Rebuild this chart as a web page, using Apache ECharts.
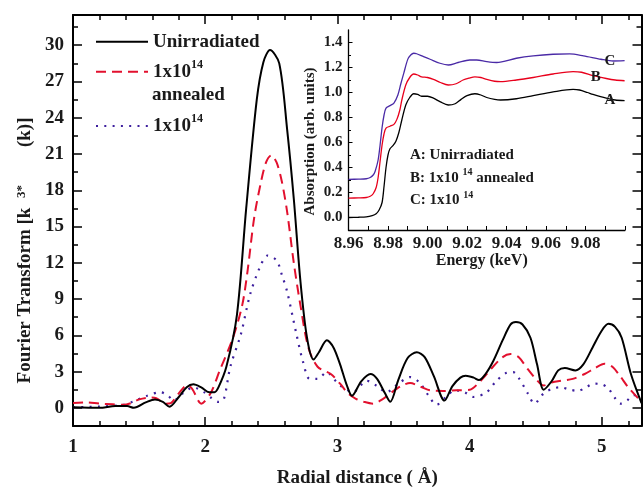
<!DOCTYPE html>
<html><head><meta charset="utf-8">
<script src="https://cdn.jsdelivr.net/npm/echarts@6/dist/echarts.min.js"></script>
<style>html,body{margin:0;padding:0;background:#fff}#c{width:644px;height:493px}</style>
</head><body><div id="c"></div><script>
// ---------- main chart data: radial distance (Å) vs Fourier transform ----------
const rUnirr = [1.00,1.20,1.32,1.41,1.46,1.55,1.62,1.68,1.73,1.80,1.86,1.91,1.97,2.03,2.07,2.10,2.16,2.24,2.31,2.39,2.44,2.49,2.56,2.62,2.67,2.72,2.77,2.82,2.86,2.92,2.97,3.02,3.07,3.11,3.18,3.25,3.30,3.36,3.40,3.46,3.53,3.60,3.66,3.73,3.81,3.87,3.93,3.97,4.03,4.07,4.12,4.18,4.25,4.31,4.35,4.40,4.46,4.51,4.56,4.62,4.67,4.72,4.80,4.86,4.93,5.00,5.05,5.10,5.15,5.22,5.30];
const ftUnirr = [0.05,0.0,0.15,0.15,0.0,0.45,0.7,0.5,0.1,0.9,1.7,1.95,1.7,1.3,1.3,1.7,3.4,7.7,16.5,25.5,28.6,29.6,28.5,23.0,17.3,10.5,5.8,4.0,4.6,5.6,5.0,3.6,1.9,1.0,2.2,2.8,2.4,1.2,0.5,2.3,4.1,4.6,4.2,2.6,0.6,1.8,2.5,2.65,2.5,2.3,2.8,3.9,5.6,6.9,7.1,6.9,5.8,3.6,1.5,2.2,3.1,3.3,3.1,3.6,5.0,6.4,6.95,6.7,5.8,2.8,0.4];

const rAnneal = [1.00,1.10,1.20,1.30,1.38,1.44,1.50,1.58,1.63,1.70,1.74,1.80,1.86,1.90,1.97,2.04,2.11,2.21,2.28,2.32,2.37,2.42,2.46,2.50,2.54,2.58,2.62,2.67,2.72,2.78,2.85,2.95,3.02,3.08,3.14,3.20,3.27,3.34,3.40,3.48,3.55,3.63,3.70,3.80,3.90,4.00,4.08,4.16,4.25,4.31,4.37,4.44,4.50,4.56,4.62,4.69,4.78,4.87,4.95,5.02,5.08,5.14,5.20,5.30];
const ftAnneal = [0.4,0.45,0.35,0.3,0.25,0.4,0.7,0.85,0.8,0.35,0.4,1.2,1.85,1.6,0.35,1.2,3.1,5.8,8.5,11.3,15.7,18.6,20.3,20.9,20.3,18.7,16.2,12.0,8.5,5.0,3.4,2.8,2.0,1.2,0.75,0.5,0.35,0.7,1.2,1.8,2.05,1.75,1.45,1.4,1.45,1.5,2.2,3.2,4.2,4.45,4.2,3.2,2.4,1.85,2.1,2.25,2.4,2.8,3.3,3.65,3.4,2.6,1.7,0.5];

const rIrr = [1.00,1.20,1.38,1.45,1.56,1.66,1.72,1.76,1.83,1.91,1.99,2.05,2.10,2.14,2.19,2.27,2.34,2.42,2.47,2.54,2.58,2.62,2.69,2.74,2.79,2.85,2.92,2.98,3.02,3.07,3.12,3.17,3.22,3.30,3.37,3.46,3.55,3.62,3.69,3.75,3.82,3.89,3.96,4.03,4.13,4.20,4.28,4.33,4.37,4.44,4.49,4.56,4.63,4.69,4.76,4.82,4.88,4.94,5.00,5.05,5.10,5.14,5.19,5.24,5.30];
const ftIrr = [0.05,0.1,0.25,0.5,1.0,1.3,1.0,0.6,1.2,1.7,1.3,0.8,0.5,0.7,3.4,6.1,9.4,11.8,12.6,12.2,11.0,9.6,6.1,3.8,2.4,2.4,2.95,2.3,1.85,1.5,1.3,1.8,2.25,1.8,1.3,2.0,2.55,2.1,1.0,0.25,0.9,1.45,1.3,0.9,1.3,2.2,2.9,2.95,2.5,1.2,0.35,1.2,1.6,1.7,1.5,1.4,1.7,2.0,1.95,1.6,0.8,0.35,0.6,1.05,1.0];

const xMajor = [1,2,3,4,5];
const xMinor = [1.2,1.4,1.6,1.8,2.2,2.4,2.6,2.8,3.2,3.4,3.6,3.8,4.2,4.4,4.6,4.8,5.2];
const yMajor = [0,3,6,9,12,15,18,21,24,27,30];
const yMinor = [1.5,4.5,7.5,10.5,13.5,16.5,19.5,22.5,25.5,28.5,31.5];

// ---------- inset data: energy (keV) vs absorption ----------
const eA = [8.960,8.965,8.969,8.972,8.974,8.9755,8.977,8.978,8.979,8.980,8.981,8.9825,8.984,8.9855,8.987,8.989,8.991,8.993,8.995,8.997,9.000,9.003,9.0065,9.0105,9.014,9.017,9.020,9.024,9.027,9.030,9.034,9.037,9.045,9.0535,9.0636,9.0737,9.077,9.081,9.0838,9.0905,9.095,9.0998];
const absA = [0.000,0.002,0.005,0.015,0.03,0.06,0.12,0.25,0.40,0.50,0.55,0.575,0.61,0.68,0.78,0.90,0.96,0.99,0.985,0.97,0.97,0.955,0.925,0.90,0.91,0.945,0.975,0.99,0.98,0.96,0.945,0.94,0.95,0.975,1.005,1.025,1.02,1.00,0.985,0.955,0.94,0.935];
const eB = [8.960,8.965,8.969,8.971,8.9725,8.974,8.975,8.976,8.977,8.978,8.979,8.981,8.983,8.9845,8.986,8.987,8.989,8.991,8.993,8.995,8.997,9.000,9.003,9.0065,9.0105,9.0145,9.018,9.021,9.024,9.027,9.030,9.034,9.037,9.045,9.0535,9.0636,9.0737,9.078,9.0838,9.0905,9.095,9.0998];
const absB = [0.155,0.157,0.16,0.17,0.19,0.24,0.32,0.45,0.58,0.67,0.715,0.73,0.745,0.785,0.86,0.94,1.06,1.12,1.148,1.14,1.125,1.12,1.105,1.08,1.06,1.07,1.10,1.115,1.125,1.12,1.105,1.09,1.087,1.10,1.12,1.148,1.167,1.162,1.135,1.112,1.10,1.094];
const eC = [8.960,8.965,8.969,8.971,8.9725,8.9735,8.975,8.976,8.977,8.978,8.979,8.981,8.983,8.985,8.9865,8.988,8.990,8.9915,8.993,8.9945,8.998,9.0013,9.0063,9.0105,9.0155,9.0214,9.0249,9.030,9.035,9.045,9.0535,9.0636,9.072,9.079,9.0878,9.094,9.0998];
const absC = [0.305,0.307,0.31,0.32,0.34,0.37,0.46,0.58,0.72,0.82,0.875,0.895,0.915,0.98,1.07,1.155,1.265,1.30,1.314,1.31,1.287,1.266,1.234,1.22,1.24,1.26,1.26,1.247,1.24,1.274,1.293,1.306,1.309,1.293,1.266,1.252,1.255];
const insetYLabels = [0,0.2,0.4,0.6,0.8,1.0,1.2,1.4];
const insetYMinor = [0.1,0.3,0.5,0.7,0.9,1.1,1.3];

const zip = (xs, ys) => xs.map((x, i) => [x, ys[i]]);
const FONT = 'Liberation Serif';
const TXT = '#1a1a1a';
const RED = '#e2102e';
const PURPLE = '#3d1f9e';

function mainX(pos, ticks, len, withLine, withLabel) {
  return {
    type: 'value', gridIndex: 0, min: 1, max: 5.3, position: pos,
    axisLine: {show: withLine, onZero: false, lineStyle: {color: '#000', width: 2}},
    axisTick: {show: true, inside: true, length: len, customValues: ticks, lineStyle: {color: '#000', width: 1.5}},
    axisLabel: withLabel ? {show: true, customValues: ticks, margin: 12, fontFamily: FONT, fontWeight: 'bold', fontSize: 19, color: TXT} : {show: false},
    splitLine: {show: false}
  };
}
function mainY(pos, ticks, len, withLine, withLabel) {
  return {
    type: 'value', gridIndex: 0, min: -1.5, max: 32.5, position: pos,
    axisLine: {show: withLine, onZero: false, lineStyle: {color: '#000', width: 2}},
    axisTick: {show: true, inside: true, length: len, customValues: ticks, lineStyle: {color: '#000', width: 1.5}},
    axisLabel: withLabel ? {show: true, customValues: ticks, margin: 9, fontFamily: FONT, fontWeight: 'bold', fontSize: 19, color: TXT} : {show: false},
    splitLine: {show: false}
  };
}

const xB = mainX('bottom', xMajor, 9, true, true);
xB.name = 'Radial distance ( Å)';
xB.nameLocation = 'middle';
xB.nameGap = 43;
xB.nameTextStyle = {fontFamily: FONT, fontWeight: 'bold', fontSize: 19, color: TXT};

const yL = mainY('left', yMajor, 9, true, true);
yL.name = 'Fourier Transform [k  {sup|3*}        (k)]';
yL.nameLocation = 'middle';
yL.nameGap = 37;
yL.nameTextStyle = {fontFamily: FONT, fontWeight: 'bold', fontSize: 19, color: TXT, padding: [0, 60, 0, 0],
  rich: {sup: {fontFamily: FONT, fontWeight: 'bold', fontSize: 13, color: TXT, verticalAlign: 'top', lineHeight: 13}}};

const insetAxisLine = {show: true, onZero: false, lineStyle: {color: '#000', width: 1.3}};

const supRich = (fs) => ({fontFamily: FONT, fontWeight: 'bold', fontSize: fs, color: TXT, verticalAlign: 'top', lineHeight: fs});

const legendText = {
  'Unirradiated': 'Unirradiated',
  '1x10^14 annealed': '1x10{sup|14}',
  '1x10^14': '1x10{sup|14}'
};
const legendStyle = {fontFamily: FONT, fontWeight: 'bold', fontSize: 19, color: TXT, lineHeight: 26, rich: {sup: supRich(12)}};
const legendCommon = {
  orient: 'vertical', left: 95, padding: 0, itemGap: 4,
  itemWidth: 52, itemHeight: 14,
  formatter: n => legendText[n],
  textStyle: legendStyle,
  itemStyle: {opacity: 0, borderWidth: 0},
  selectedMode: false
};

const chart = echarts.init(document.getElementById('c'), null, {renderer: 'canvas'});
chart.setOption({
  animation: false,
  backgroundColor: '#fff',
  grid: [
    {left: 73, right: 2.5, top: 15, bottom: 62},
    {left: 348.5, right: 19, top: 30, bottom: 263}
  ],
  xAxis: [
    xB,
    mainX('bottom', xMinor, 5, false, false),
    mainX('top', xMajor, 9, true, false),
    mainX('top', xMinor, 5, false, false),
    {
      type: 'value', gridIndex: 1, min: 8.96, max: 9.10, interval: 0.02, position: 'bottom',
      axisLine: insetAxisLine,
      axisTick: {show: true, inside: true, length: 4, lineStyle: {color: '#000', width: 1}},
      minorTick: {show: true, splitNumber: 2, length: 4, lineStyle: {color: '#000', width: 1}},
      axisLabel: {show: true, margin: 5, showMaxLabel: false, formatter: v => v.toFixed(2), fontFamily: FONT, fontWeight: 'bold', fontSize: 17, color: TXT},
      splitLine: {show: false},
      name: 'Energy (keV)', nameLocation: 'middle', nameGap: 21,
      nameTextStyle: {fontFamily: FONT, fontWeight: 'bold', fontSize: 16, color: TXT, padding: [0, 10, 0, 0]}
    }
  ],
  yAxis: [
    yL,
    mainY('left', yMinor, 5, false, false),
    mainY('right', yMajor, 9, true, false),
    mainY('right', yMinor, 5, false, false),
    {
      type: 'value', gridIndex: 1, min: -0.1, max: 1.5, position: 'left',
      axisLine: insetAxisLine,
      axisTick: {show: true, inside: true, length: 4, customValues: insetYLabels, lineStyle: {color: '#000', width: 1}},
      axisLabel: {show: true, customValues: insetYLabels, margin: 6, formatter: v => v.toFixed(1), fontFamily: FONT, fontWeight: 'bold', fontSize: 15, color: TXT},
      splitLine: {show: false},
      name: 'Absorption (arb. units)', nameLocation: 'middle', nameGap: 31,
      nameTextStyle: {fontFamily: FONT, fontWeight: 'bold', fontSize: 15, color: TXT, padding: [0, 23, 0, 0]}
    },
    {
      type: 'value', gridIndex: 1, min: -0.1, max: 1.5, position: 'left',
      axisLine: {show: false},
      axisTick: {show: true, inside: true, length: 2.5, customValues: insetYMinor, lineStyle: {color: '#000', width: 1}},
      axisLabel: {show: false},
      splitLine: {show: false}
    }
  ],
  legend: [
    Object.assign({data: ['Unirradiated', '1x10^14 annealed'], top: 28.7}, legendCommon),
    Object.assign({data: ['1x10^14'], top: 113}, legendCommon)
  ],
  series: [
    {name: 'Unirradiated', type: 'line', xAxisIndex: 0, yAxisIndex: 0, data: zip(rUnirr, ftUnirr),
     smooth: 0.3, symbol: 'none', lineStyle: {color: '#000', width: 2}, itemStyle: {color: '#000'}, z: 5},
    {name: '1x10^14 annealed', type: 'line', xAxisIndex: 0, yAxisIndex: 0, data: zip(rAnneal, ftAnneal),
     smooth: 0.3, symbol: 'none', lineStyle: {color: RED, width: 2, type: [10, 6]}, itemStyle: {color: RED}, z: 4},
    {name: '1x10^14', type: 'line', xAxisIndex: 0, yAxisIndex: 0, data: zip(rIrr, ftIrr),
     smooth: 0.3, symbol: 'none', lineStyle: {color: PURPLE, width: 2.2, type: [2, 6.3]}, itemStyle: {color: PURPLE}, z: 3},
    {name: 'A', type: 'line', xAxisIndex: 4, yAxisIndex: 4, data: zip(eA, absA),
     smooth: 0.3, symbol: 'none', lineStyle: {color: '#000', width: 1.3}, clip: true},
    {name: 'B', type: 'line', xAxisIndex: 4, yAxisIndex: 4, data: zip(eB, absB),
     smooth: 0.3, symbol: 'none', lineStyle: {color: '#e8001c', width: 1.3}, clip: true},
    {name: 'C', type: 'line', xAxisIndex: 4, yAxisIndex: 4, data: zip(eC, absC),
     smooth: 0.3, symbol: 'none', lineStyle: {color: '#4a2aa6', width: 1.3}, clip: true}
  ]
});

// annotations
const p = (x, y) => chart.convertToPixel({gridIndex: 1}, [x, y]);
const lbl = (t, pt) => ({type: 'text', x: pt[0], y: pt[1], style: {text: t, fontFamily: FONT, fontWeight: 'bold', fontSize: 15, fill: TXT, align: 'center', verticalAlign: 'middle'}, z: 10});
const boxStyle = {fontFamily: FONT, fontWeight: 'bold', fontSize: 15, fill: TXT, lineHeight: 20, verticalAlign: 'middle', align: 'left',
  rich: {sup: {fontFamily: FONT, fontWeight: 'bold', fontSize: 10, fill: TXT, verticalAlign: 'top', lineHeight: 10}}};
chart.setOption({
  graphic: [
    {type: 'text', left: 152, top: 86, style: {text: 'annealed', fontFamily: FONT, fontWeight: 'bold', fontSize: 19, fill: TXT}},
    lbl('C', p(9.0923, 1.253)),
    lbl('B', p(9.0852, 1.12)),
    lbl('A', p(9.0923, 0.937)),
    {type: 'text', x: 410, y: 155, style: Object.assign({text: 'A: Unirradiated'}, boxStyle)},
    {type: 'text', x: 410, y: 177.7, style: Object.assign({text: 'B: 1x10 {sup|14} annealed'}, boxStyle)},
    {type: 'text', x: 410, y: 200, style: Object.assign({text: 'C: 1x10 {sup|14}'}, boxStyle)}
  ]
});
</script></body></html>
